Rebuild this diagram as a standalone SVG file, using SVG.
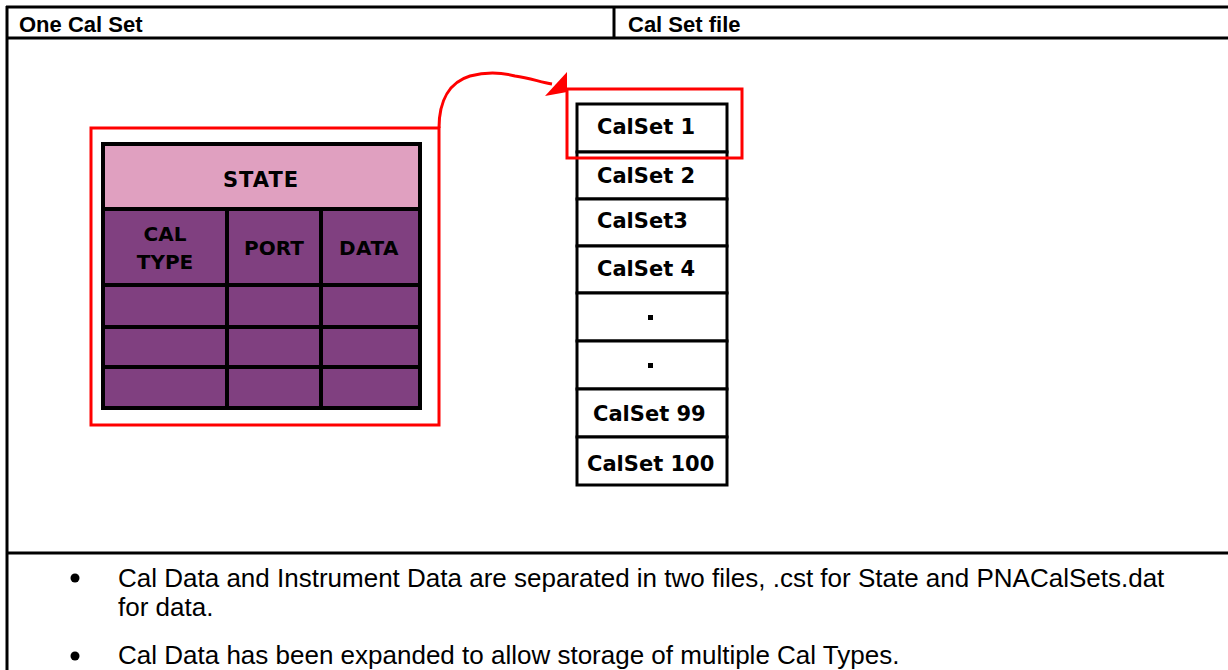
<svg xmlns="http://www.w3.org/2000/svg" width="1228" height="670" viewBox="0 0 1228 670">
<style>
.frame{stroke:#000;stroke-width:3;fill:none}
.hdr{font-family:"Liberation Sans",Arial,sans-serif;font-weight:bold;font-size:22px;fill:#000}
.body{font-family:"Liberation Sans",Arial,sans-serif;font-size:26px;fill:#000}
.pix{font-family:"DejaVu Sans",Verdana,sans-serif;font-weight:bold;fill:#000}
.grid{stroke:#000;stroke-width:4;fill:none}
.cell{stroke:#000;stroke-width:3;fill:#fff}
.red{stroke:#ff0000;stroke-width:3;fill:none}
</style>
<rect width="1228" height="670" fill="#fff"/>
<g id="frame">
<line class="frame" x1="6" y1="7" x2="1228" y2="7"/>
<line class="frame" x1="6" y1="38" x2="1228" y2="38"/>
<line class="frame" x1="7" y1="6" x2="7" y2="670"/>
<line class="frame" x1="614" y1="7" x2="614" y2="38"/>
<line class="frame" x1="6" y1="553" x2="1228" y2="553"/>
<text class="hdr" x="19" y="32">One Cal Set</text>
<text class="hdr" x="628" y="32">Cal Set file</text>
</g>
<g id="state-table">
<rect x="103" y="144" width="317" height="65" fill="#e0a0c0"/>
<rect x="103" y="209" width="317" height="199" fill="#804080"/>
<rect class="grid" x="103" y="144" width="317" height="264"/>
<line class="grid" x1="103" y1="209" x2="420" y2="209"/>
<line class="grid" x1="103" y1="285" x2="420" y2="285"/>
<line class="grid" x1="103" y1="327" x2="420" y2="327"/>
<line class="grid" x1="103" y1="367" x2="420" y2="367"/>
<line class="grid" x1="227" y1="209" x2="227" y2="408"/>
<line class="grid" x1="321" y1="209" x2="321" y2="408"/>
<text class="pix" x="261" y="187" font-size="21" text-anchor="middle" letter-spacing="1">STATE</text>
<text class="pix" x="165" y="241" font-size="20" text-anchor="middle">CAL</text>
<text class="pix" x="165" y="269" font-size="20" text-anchor="middle">TYPE</text>
<text class="pix" x="274" y="255" font-size="20" text-anchor="middle">PORT</text>
<text class="pix" x="369" y="255" font-size="20" text-anchor="middle" letter-spacing="0.5">DATA</text>
</g>
<g id="calset-file">
<rect class="cell" x="577" y="104" width="150" height="48"/>
<rect class="cell" x="577" y="152" width="150" height="47"/>
<rect class="cell" x="577" y="199" width="150" height="47"/>
<rect class="cell" x="577" y="246" width="150" height="47"/>
<rect class="cell" x="577" y="293" width="150" height="48"/>
<rect class="cell" x="577" y="341" width="150" height="48"/>
<rect class="cell" x="577" y="389" width="150" height="48"/>
<rect class="cell" x="577" y="437" width="150" height="48"/>
<text class="pix" x="597" y="134" font-size="21">CalSet 1</text>
<text class="pix" x="597" y="183" font-size="21">CalSet 2</text>
<text class="pix" x="597" y="228" font-size="21">CalSet3</text>
<text class="pix" x="597" y="276" font-size="21">CalSet 4</text>
<rect x="648" y="315" width="5" height="5" fill="#000"/>
<rect x="648" y="363" width="5" height="5" fill="#000"/>
<text class="pix" x="593" y="421" font-size="21">CalSet 99</text>
<text class="pix" x="587" y="471" font-size="21">CalSet 100</text>
</g>
<g id="highlights">
<rect class="red" x="91" y="128" width="348" height="297"/>
<rect class="red" x="567" y="89" width="175" height="69"/>
</g>
<g id="connectors">
<path class="red" d="M439,128 C439,100 450,82 470,76 C485,72 500,72 515,76 C530,78 540,82 552,84"/>
<polygon points="567,72 545,96 567,92" fill="#ff0000"/>
</g>
<g id="notes">
<circle cx="75" cy="578" r="4.5" fill="#000"/>
<text class="body" x="118" y="587">Cal Data and Instrument Data are separated in two files, .cst for State and PNACalSets.dat</text>
<text class="body" x="118" y="616">for data.</text>
<circle cx="75" cy="656" r="4.5" fill="#000"/>
<text class="body" x="118" y="664">Cal Data has been expanded to allow storage of multiple Cal Types.</text>
</g>
</svg>
